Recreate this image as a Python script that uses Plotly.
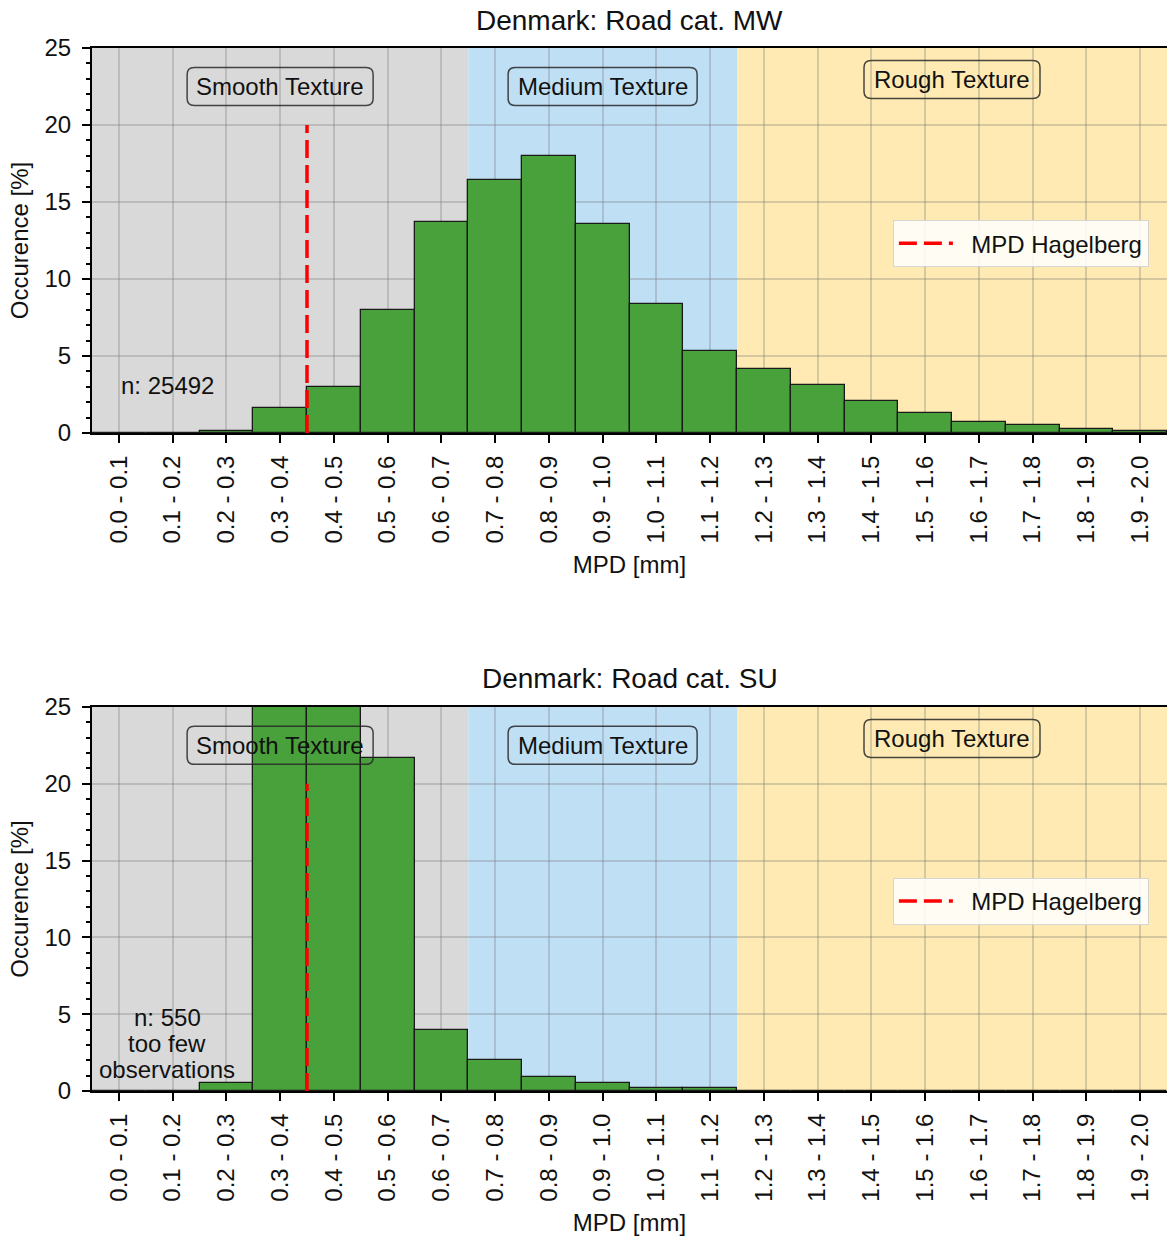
import plotly.graph_objects as go

# MPD bins (mm) and their tick labels
bin_labels = ["0.0 - 0.1", "0.1 - 0.2", "0.2 - 0.3", "0.3 - 0.4", "0.4 - 0.5",
              "0.5 - 0.6", "0.6 - 0.7", "0.7 - 0.8", "0.8 - 0.9", "0.9 - 1.0",
              "1.0 - 1.1", "1.1 - 1.2", "1.2 - 1.3", "1.3 - 1.4", "1.4 - 1.5",
              "1.5 - 1.6", "1.6 - 1.7", "1.7 - 1.8", "1.8 - 1.9", "1.9 - 2.0"]
bin_index = list(range(len(bin_labels)))

# Occurrence [%] per bin
occ_mw = [0.02, 0.03, 0.15, 1.6, 3.0, 8.0, 13.7, 16.4, 18.0, 13.6,
          8.4, 5.3, 4.15, 3.1, 2.1, 1.3, 0.7, 0.5, 0.25, 0.1]
occ_su = [0.0, 0.0, 0.55, 34.5, 35.4, 21.7, 4.0, 2.0, 0.9, 0.55,
          0.2, 0.2, 0.0, 0.0, 0.0, 0.0, 0.0, 0.0, 0.0, 0.0]

titles = ["Denmark: Road cat. MW", "Denmark: Road cat. SU"]
n_notes = [["n: 25492"], ["n: 550", "too few", "observations"]]

# MPD Hagelberg threshold, expressed as a bin edge position (0.4 mm)
hagelberg_pos = 3.5
hagelberg_top = 20

# Texture classes: label, bin-edge span, fill colour, label position
tex_names = ["Smooth Texture", "Medium Texture", "Rough Texture"]
tex_edges = [(-0.5, 6.5), (6.5, 11.5), (11.5, 19.5)]
tex_colors = ["#d9d9d9", "#bfdff5", "#feeab2"]
tex_label_x = [3.0, 9.0, 15.5]
tex_label_y = [22.5, 22.5, 22.95]
# half width of each label box in pixels
tex_box_halfw = [93, 94.5, 88]

FONT = "Liberation Sans, Arial, sans-serif"
FS = 24
BAR_COLOR = "#49a13b"

# pixel geometry of the plot areas
PX_PER_BIN = 1075 / 20.0
PX_PER_UNIT = [385 / 25.0, 384 / 25.0]
BOX_HALFH = 19
RADIUS = 7


def rounded_box(cx, cy, hw_px, hh_px, r_px, sy):
    """SVG path (data units) of a rounded rectangle centred at (cx, cy)."""
    sx = PX_PER_BIN
    x0, x1 = cx - hw_px / sx, cx + hw_px / sx
    y0, y1 = cy - hh_px / sy, cy + hh_px / sy
    rx, ry = r_px / sx, r_px / sy
    return (f"M {x0 + rx},{y1} L {x1 - rx},{y1} Q {x1},{y1} {x1},{y1 - ry} "
            f"L {x1},{y0 + ry} Q {x1},{y0} {x1 - rx},{y0} "
            f"L {x0 + rx},{y0} Q {x0},{y0} {x0},{y0 + ry} "
            f"L {x0},{y1 - ry} Q {x0},{y1} {x0 + rx},{y1} Z")


fig = go.Figure()

domains = [[0.6309, 1.0], [0.0, 0.3682]]
legend_y = [0.835, 0.2042]
data_sets = [occ_mw, occ_su]

shapes = []
annotations = []
for k in range(2):
    xa = "x" if k == 0 else "x2"
    ya = "y" if k == 0 else "y2"
    lg = "legend" if k == 0 else "legend2"

    fig.add_trace(go.Bar(
        x=bin_index, y=data_sets[k], width=1.0,
        marker=dict(color=BAR_COLOR, line=dict(color="#1a1a1a", width=1.3)),
        xaxis=xa, yaxis=ya, showlegend=False,
    ))
    fig.add_trace(go.Scatter(
        x=[hagelberg_pos, hagelberg_pos], y=[0, hagelberg_top],
        mode="lines", name="\u00a0\u00a0MPD Hagelberg",
        line=dict(color="#ff0000", width=3.5, dash="18px,7px"),
        xaxis=xa, yaxis=ya, legend=lg, showlegend=True,
    ))

    for (x0, x1), col in zip(tex_edges, tex_colors):
        shapes.append(dict(type="rect", xref=xa, yref=f"{ya} domain",
                           x0=x0, x1=x1, y0=0, y1=1, fillcolor=col,
                           line=dict(width=0), layer="below"))
    for name, lx, ly, hw in zip(tex_names, tex_label_x, tex_label_y, tex_box_halfw):
        shapes.append(dict(type="path", xref=xa, yref=ya,
                           path=rounded_box(lx, ly, hw, BOX_HALFH, RADIUS, PX_PER_UNIT[k]),
                           line=dict(color="rgba(40,40,40,0.85)", width=1.5),
                           fillcolor="rgba(0,0,0,0)", layer="above"))
        annotations.append(dict(
            text=name, x=lx, y=ly, xref=xa, yref=ya, showarrow=False,
            font=dict(family=FONT, size=FS, color="#111"),
        ))

    # sample-size note, one line at a time
    lines = n_notes[k]
    step = 26 / PX_PER_UNIT[k]
    mid = 3.1
    for j, line in enumerate(lines):
        yy = mid + ((len(lines) - 1) / 2 - j) * step
        annotations.append(dict(
            text=line, x=0.9, y=yy, xref=xa, yref=ya, showarrow=False,
            font=dict(family=FONT, size=FS, color="#111"),
        ))

axis_common = dict(
    showline=True, linecolor="black", linewidth=2,
    ticks="outside", ticklen=8, tickwidth=2, tickcolor="black",
    showgrid=True, gridcolor="rgba(120,120,120,0.3)", gridwidth=1.5,
    zeroline=False,
    tickfont=dict(family=FONT, size=FS, color="#111"),
)

layout_axes = {}
for k in range(2):
    sx = "xaxis" if k == 0 else "xaxis2"
    sy = "yaxis" if k == 0 else "yaxis2"
    ya = "y" if k == 0 else "y2"
    xa = "x" if k == 0 else "x2"
    layout_axes[sx] = dict(
        axis_common, anchor=ya, domain=[0, 1], range=[-0.5, 19.5],
        tickmode="array", tickvals=bin_index, ticktext=bin_labels,
        tickangle=-90, mirror=True, ticklabelstandoff=3,
        title=dict(text="MPD [mm]", font=dict(family=FONT, size=FS, color="#111"),
                   standoff=14),
    )
    layout_axes[sy] = dict(
        axis_common, anchor=xa, domain=domains[k], range=[0, 25],
        tickmode="array", tickvals=[0, 5, 10, 15, 20, 25],
        ticklabelstandoff=6,
        minor=dict(dtick=1, ticklen=4, tickwidth=1.5, tickcolor="black",
                   ticks="outside", showgrid=False),
        title=dict(text="Occurence [%]", font=dict(family=FONT, size=FS, color="#111"),
                   standoff=9),
    )
    annotations.append(dict(
        text=titles[k], xref="paper", yref=f"{ya} domain", x=0.5, y=1.0,
        yanchor="middle", yshift=28, showarrow=False,
        font=dict(family=FONT, size=28, color="#111"),
    ))

legend_style = dict(
    xanchor="left", yanchor="top", x=0.745,
    bgcolor="rgba(255,255,255,0.85)", bordercolor="rgba(210,210,210,0.9)",
    borderwidth=1, font=dict(family=FONT, size=FS, color="#111"),
    itemwidth=54,
)

fig.update_layout(
    width=1167, height=1239,
    margin=dict(l=92, r=0, t=48, b=148),
    paper_bgcolor="white", plot_bgcolor="white",
    bargap=0,
    shapes=shapes, annotations=annotations,
    legend=dict(legend_style, y=legend_y[0]),
    legend2=dict(legend_style, y=legend_y[1]),
    **layout_axes,
)

fig.write_html("out.html")
